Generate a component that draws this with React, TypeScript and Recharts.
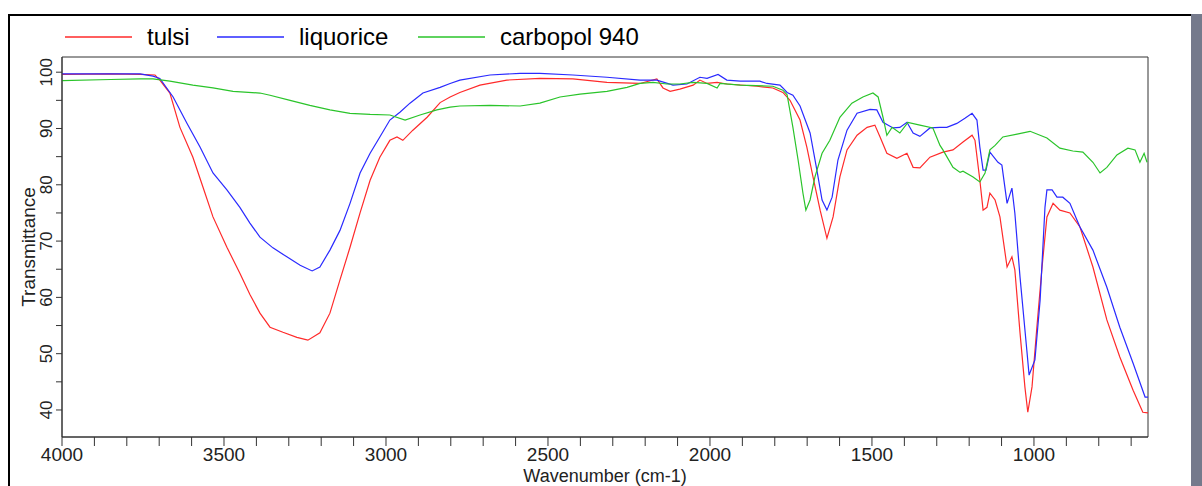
import React from "react";
import { LineChart, Line, XAxis, YAxis, ReferenceArea } from "recharts";

// wavenumber (cm-1) / transmittance (%)
const tulsiWave = [4000, 3850, 3759, 3713, 3698, 3667, 3636, 3596, 3565, 3534, 3491, 3451, 3420, 3389, 3358, 3318, 3275, 3241, 3204, 3173, 3142, 3111, 3080, 3049, 3019, 2988, 2966, 2948, 2917, 2873, 2833, 2802, 2772, 2710, 2627, 2525, 2423, 2318, 2216, 2164, 2145, 2123, 2093, 2052, 2031, 2009, 1978, 1948, 1855, 1806, 1775, 1753, 1744, 1722, 1701, 1682, 1660, 1639, 1620, 1599, 1577, 1546, 1515, 1491, 1475, 1454, 1423, 1392, 1373, 1352, 1321, 1281, 1250, 1219, 1191, 1182, 1167, 1157, 1145, 1136, 1120, 1105, 1083, 1068, 1059, 1043, 1028, 1019, 1006, 991, 975, 960, 941, 920, 889, 858, 818, 775, 735, 694, 664, 648];
const tulsiT = [99.6, 99.7, 99.6, 99.5, 98.6, 96.3, 90.2, 84.9, 79.6, 74.3, 68.9, 64.3, 60.5, 57.2, 54.7, 53.8, 52.9, 52.4, 53.7, 57.2, 63.1, 68.9, 75.0, 80.8, 84.9, 87.9, 88.5, 87.9, 89.7, 92.0, 94.6, 95.6, 96.4, 97.7, 98.6, 98.9, 98.8, 98.2, 98.0, 98.8, 97.2, 96.6, 97.0, 97.7, 98.6, 98.0, 98.2, 97.9, 97.5, 97.2, 96.4, 95.0, 94.0, 91.5, 86.7, 81.4, 75.5, 70.5, 74.3, 81.4, 86.2, 88.8, 90.2, 90.6, 88.5, 85.6, 84.7, 85.6, 83.1, 83.0, 84.9, 85.8, 86.2, 87.6, 88.8, 87.9, 80.8, 75.5, 76.0, 78.5, 77.3, 74.3, 65.4, 67.2, 64.9, 53.7, 44.1, 39.6, 44.1, 54.7, 65.4, 74.3, 76.7, 75.5, 75.0, 72.5, 65.4, 56.0, 49.4, 43.5, 39.6, 39.5];

const liquoriceWave = [4000, 3850, 3759, 3719, 3698, 3657, 3614, 3574, 3534, 3491, 3451, 3420, 3389, 3349, 3306, 3265, 3228, 3204, 3173, 3142, 3111, 3080, 3049, 3019, 2988, 2957, 2926, 2886, 2833, 2802, 2772, 2679, 2586, 2525, 2423, 2318, 2216, 2164, 2114, 2071, 2031, 2009, 1975, 1948, 1907, 1846, 1824, 1784, 1775, 1762, 1744, 1722, 1691, 1670, 1654, 1639, 1623, 1605, 1577, 1546, 1506, 1485, 1466, 1435, 1414, 1392, 1373, 1352, 1321, 1290, 1269, 1238, 1213, 1191, 1176, 1167, 1157, 1148, 1136, 1111, 1099, 1083, 1068, 1059, 1043, 1022, 1015, 997, 981, 966, 960, 944, 929, 911, 889, 867, 858, 818, 775, 735, 694, 657, 648];
const liquoriceT = [99.7, 99.7, 99.7, 99.3, 98.9, 95.6, 90.9, 86.7, 82.1, 79.1, 76.0, 73.2, 70.7, 68.8, 67.2, 65.7, 64.7, 65.4, 68.4, 71.9, 76.7, 82.1, 85.6, 88.5, 91.5, 92.9, 94.5, 96.3, 97.3, 98.0, 98.6, 99.5, 99.8, 99.8, 99.5, 99.1, 98.6, 98.6, 97.7, 97.9, 99.1, 98.9, 99.6, 98.6, 98.4, 98.4, 98.0, 97.7, 97.2, 96.4, 95.9, 94.0, 89.2, 82.6, 77.3, 75.5, 77.8, 84.4, 89.7, 92.7, 93.4, 93.3, 91.1, 90.1, 90.2, 91.1, 89.2, 88.6, 90.1, 90.2, 90.2, 90.9, 91.8, 92.7, 91.5, 86.7, 82.6, 82.6, 85.8, 84.0, 83.5, 76.7, 79.4, 75.0, 63.6, 50.6, 46.2, 48.9, 59.5, 76.0, 79.1, 79.1, 77.8, 77.8, 76.7, 73.7, 72.5, 68.4, 61.8, 54.7, 48.3, 42.3, 42.3];

const carbopolWave = [4000, 3850, 3759, 3719, 3667, 3596, 3534, 3472, 3389, 3358, 3296, 3235, 3173, 3111, 3049, 2988, 2941, 2895, 2843, 2802, 2772, 2679, 2586, 2525, 2463, 2401, 2318, 2256, 2216, 2176, 2133, 2093, 2052, 2009, 1978, 1969, 1907, 1806, 1775, 1762, 1744, 1728, 1713, 1704, 1691, 1676, 1654, 1630, 1599, 1562, 1528, 1497, 1481, 1466, 1454, 1438, 1414, 1389, 1352, 1312, 1290, 1281, 1250, 1228, 1219, 1188, 1167, 1151, 1136, 1120, 1096, 1052, 1012, 960, 920, 880, 849, 818, 796, 775, 744, 710, 688, 673, 660, 651];
const carbopolT = [98.5, 98.7, 98.8, 98.8, 98.4, 97.7, 97.2, 96.6, 96.3, 95.9, 95.0, 94.1, 93.3, 92.7, 92.5, 92.4, 91.5, 92.4, 93.3, 93.8, 94.0, 94.1, 94.0, 94.5, 95.6, 96.1, 96.6, 97.3, 98.0, 98.2, 97.9, 97.9, 98.2, 98.0, 97.2, 98.0, 97.7, 97.5, 96.8, 96.0, 90.2, 84.4, 78.5, 75.5, 77.3, 81.4, 85.6, 87.9, 92.0, 94.5, 95.6, 96.3, 95.6, 92.0, 88.8, 90.2, 89.2, 91.1, 90.6, 90.1, 87.0, 86.2, 83.1, 82.2, 82.4, 81.4, 80.5, 82.1, 86.2, 87.0, 88.5, 89.0, 89.5, 88.3, 86.5, 86.0, 85.8, 84.0, 82.1, 83.1, 85.3, 86.5, 86.2, 84.0, 85.6, 84.0];

const seriesNames = ["tulsi", "liquorice", "carbopol 940"];
const seriesColors = ["#ff2a2a", "#2a2aff", "#2ac42a"];

const xTicks = [4000, 3900, 3800, 3700, 3600, 3500, 3400, 3300, 3200, 3100, 3000, 2900, 2800, 2700, 2600, 2500, 2400, 2300, 2200, 2100, 2000, 1900, 1800, 1700, 1600, 1500, 1400, 1300, 1200, 1100, 1000, 900, 800, 700];
const yTicks = [40, 45, 50, 55, 60, 65, 70, 75, 80, 85, 90, 95, 100];

const font = "'Liberation Sans', Arial, sans-serif";

const pts = (w: number[], t: number[]) => w.map((v, i) => ({ w: v, t: t[i] }));
const series = [pts(tulsiWave, tulsiT), pts(liquoriceWave, liquoriceT), pts(carbopolWave, carbopolT)];

const YTick = (props: any) => {
  const { y, payload } = props;
  if (payload.value % 10 !== 0) return <g />;
  return (
    <text x={52} y={y} transform={`rotate(-90 52 ${y})`} textAnchor="middle" fontSize={17} fontFamily={font} fill="#222">
      {payload.value}
    </text>
  );
};

const legendX = [65, 217, 418];

const App: React.FC = () => {
  return (
    <div style={{ position: "absolute", left: 0, top: 0, width: 1202, height: 486, background: "#fff", overflow: "hidden" }}>
      <div style={{ position: "absolute", left: 8, top: 14, width: 1183, height: 2, background: "#000" }} />
      <div style={{ position: "absolute", left: 8, top: 14, width: 2, height: 472, background: "#000" }} />
      <div style={{ position: "absolute", left: 1191, top: 14, width: 11, height: 472, background: "#757a8c" }} />
      <svg style={{ position: "absolute", left: 0, top: 0 }} width={700} height={57}>
        {seriesNames.map((n, i) => (
          <g key={n}>
            <line x1={legendX[i]} x2={legendX[i] + 67} y1={37} y2={37} stroke={seriesColors[i]} strokeWidth={1.3} />
            <text x={legendX[i] + 82} y={45} fontSize={24} fontFamily={font} fill="#000">
              {n}
            </text>
          </g>
        ))}
      </svg>
      <div style={{ position: "absolute", left: 0, top: 0 }}>
        <LineChart width={1202} height={486} margin={{ top: 57, right: 54, bottom: 0, left: 0 }}>
          <XAxis
            dataKey="w"
            type="number"
            domain={[648, 4000]}
            reversed
            allowDataOverflow
            ticks={xTicks}
            interval={0}
            tickSize={9}
            tickMargin={2}
            height={49}
            stroke="#333"
            tick={{ fontSize: 19, fontFamily: font, fill: "#222" }}
            tickFormatter={(v: number) => (v % 500 === 0 ? String(v) : "")}
            label={{ value: "Wavenumber (cm-1)", position: "insideBottom", offset: 4, fontSize: 18, fontFamily: font, fill: "#222" }}
          />
          <YAxis
            dataKey="t"
            type="number"
            domain={[35.2, 102.7]}
            allowDataOverflow
            ticks={yTicks}
            interval={0}
            tickSize={6}
            width={62}
            stroke="#333"
            tick={YTick}
            label={{
              content: () => (
                <text x={35} y={247} transform="rotate(-90 35 247)" textAnchor="middle" fontSize={19} fontFamily={font} fill="#222">
                  Transmittance
                </text>
              ),
            }}
          />
          <ReferenceArea x1={4000} x2={648} y1={35.2} y2={102.7} fill="none" stroke="#333" strokeWidth={1} />
          {series.map((d, i) => (
            <Line
              key={seriesNames[i]}
              data={d}
              dataKey="t"
              name={seriesNames[i]}
              type="linear"
              stroke={seriesColors[i]}
              strokeWidth={1.2}
              dot={false}
              activeDot={false}
              isAnimationActive={false}
            />
          ))}
        </LineChart>
      </div>
    </div>
  );
};

export default App;
